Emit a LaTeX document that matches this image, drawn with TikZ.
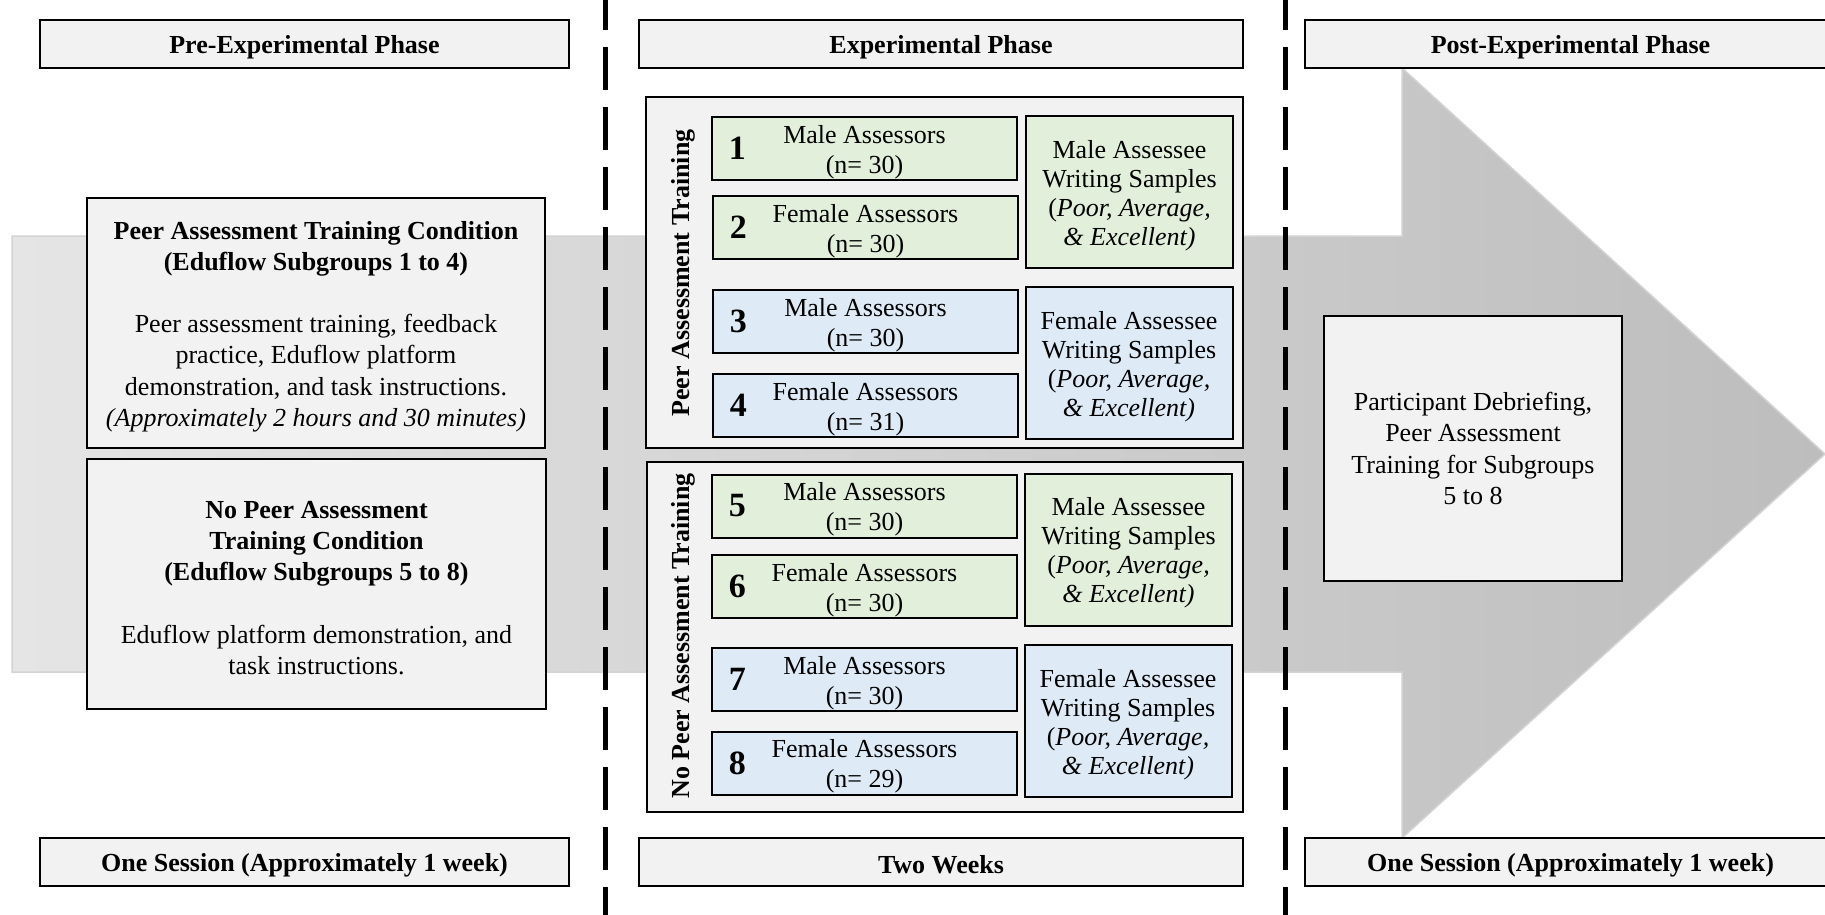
\documentclass[tikz,border=0pt]{standalone}
\usepackage{fontspec}
\setmainfont{Liberation Serif}
\usetikzlibrary{positioning}

\definecolor{boxgray}{HTML}{F2F2F2}
\definecolor{malegrn}{HTML}{E2EFDA}
\definecolor{femblue}{HTML}{DEEBF7}
\definecolor{bandleft}{HTML}{E5E5E5}
\definecolor{bandright}{HTML}{BDBDBD}
\definecolor{bandedge}{HTML}{D3D3D3}

% pushes a text block a little lower in its box
\newcommand{\toplift}{\rule{0pt}{12.5pt}}

\begin{document}
\begin{tikzpicture}[x=0.5pt, y=-0.5pt,
		execute at begin picture={\fontsize{13}{15.6}\selectfont},
		hdr/.style={draw=black, line width=1pt, fill=boxgray, minimum height=24pt, inner sep=0pt, font=\bfseries\toplift},
		panel/.style={draw=black, line width=1pt, fill=boxgray, align=center, inner sep=0pt},
		mgrp/.style={draw=black, line width=1pt, fill=malegrn, align=center, inner sep=0pt, minimum width=152.5pt, minimum height=31.5pt, font=\fontsize{13}{15}\selectfont},
		fgrp/.style={mgrp, fill=femblue},
		msmp/.style={draw=black, line width=1pt, fill=malegrn, align=center, inner sep=0pt, minimum width=103.5pt, minimum height=76pt, font=\fontsize{13}{14.5}\selectfont},
		fsmp/.style={msmp, fill=femblue},
		num/.style={inner sep=0pt, font=\fontsize{17}{20}\selectfont\bfseries},
		sidelbl/.style={rotate=90, inner sep=0pt, font=\bfseries\toplift},
		phaseline/.style={line width=2.5pt, dash pattern=on 21.5pt off 8.5pt, dash phase=6.5pt}]
			
			\useasboundingbox (0,0) rectangle (1825,915);
			
			% 1. THE BACKGROUND ARROW
			\shade[left color=bandleft, right color=bandright, draw=bandedge, line width=0.75pt] (12,236) -- (1402,236) -- (1402,68) -- (1825,454) -- (1402,838) -- (1402,672) -- (12,672) -- cycle;
			
			% 2. PHASE HEADERS
			\node[hdr, minimum width=264.5pt] (prehdr) at (304.5,44) {Pre-Experimental Phase};
			\node[hdr, minimum width=302pt] (exphdr) at (941,44) {Experimental Phase};
			\node[hdr, minimum width=265.5pt] (posthdr) at (1570.5,44) {Post-Experimental Phase};
			
			% Durations
			\node[hdr, minimum width=264.5pt] (predur) at (304.5,861.5) {One Session (Approximately 1 week)};
			\node[hdr, minimum width=302pt] (expdur) at (941,861.5) {Two Weeks};
			\node[hdr, minimum width=265.5pt] (postdur) at (1570.5,861.5) {One Session (Approximately 1 week)};
			
			% 3. PRE-EXPERIMENTAL CONDITIONS
			\node[panel, minimum width=229pt, minimum height=125pt] (patcond) at (316,323) {\toplift\textbf{Peer Assessment Training Condition}\\ \textbf{(Eduflow Subgroups 1 to 4)}\\[15.6pt] Peer assessment training, feedback\\ practice, Eduflow platform\\ demonstration, and task instructions.\\ \textit{(Approximately 2 hours and 30 minutes)}};
			\node[panel, minimum width=229.5pt, minimum height=125pt] (nopatcond) at (316.5,584) {\toplift\textbf{No Peer Assessment}\\ \textbf{Training Condition}\\ \textbf{(Eduflow Subgroups 5 to 8)}\\[15.6pt] Eduflow platform demonstration, and\\ task instructions.};
			
			% 4. EXPERIMENTAL SUBGROUPS
			% Training panel (subgroups 1-4)
			\node[panel, minimum width=298.5pt, minimum height=175.5pt] (patpanel) at (944.5,272.5) {};
			\node[sidelbl] (patlbl) at (680,273) {Peer Assessment Training};
			\node[mgrp] (g1) at (864.5,148.5) {\toplift Male Assessors\\ (n= 30)};
			\node[mgrp] (g2) at (865.5,227.5) {\toplift Female Assessors\\ (n= 30)};
			\node[fgrp] (g3) at (865.5,321.5) {\toplift Male Assessors\\ (n= 30)};
			\node[fgrp] (g4) at (865.5,405.5) {\toplift Female Assessors\\ (n= 31)};
			\node[num, right=8.75pt of g1.west] (n1) {1};
			\node[num, right=8.75pt of g2.west] (n2) {2};
			\node[num, right=8.75pt of g3.west] (n3) {3};
			\node[num, right=8.75pt of g4.west] (n4) {4};
			\node[msmp] (s1) at (1129.5,192) {\toplift Male Assessee\\ Writing Samples\\ (\textit{Poor, Average,}\\ \textit{\& Excellent)}};
			\node[fsmp] (s2) at (1129,363) {\toplift Female Assessee\\ Writing Samples\\ (\textit{Poor, Average,}\\ \textit{\& Excellent)}};
			
			% No training panel (subgroups 5-8)
			\node[panel, minimum width=298pt, minimum height=175pt] (nopatpanel) at (945,637) {};
			\node[sidelbl] (nopatlbl) at (680,636) {No Peer Assessment Training};
			\node[mgrp] (g5) at (864.5,506) {\toplift Male Assessors\\ (n= 30)};
			\node[mgrp] (g6) at (864.5,586.5) {\toplift Female Assessors\\ (n= 30)};
			\node[fgrp] (g7) at (864.5,679.5) {\toplift Male Assessors\\ (n= 30)};
			\node[fgrp] (g8) at (864.5,763) {\toplift Female Assessors\\ (n= 29)};
			\node[num, right=8.75pt of g5.west] (n5) {5};
			\node[num, right=8.75pt of g6.west] (n6) {6};
			\node[num, right=8.75pt of g7.west] (n7) {7};
			\node[num, right=8.75pt of g8.west] (n8) {8};
			\node[msmp] (s3) at (1128.5,549.5) {\toplift Male Assessee\\ Writing Samples\\ (\textit{Poor, Average,}\\ \textit{\& Excellent)}};
			\node[fsmp] (s4) at (1128,721) {\toplift Female Assessee\\ Writing Samples\\ (\textit{Poor, Average,}\\ \textit{\& Excellent)}};
			
			% 5. POST-EXPERIMENTAL
			\node[panel, minimum width=149pt, minimum height=132.5pt] (debrief) at (1473,448.5) {Participant Debriefing,\\ Peer Assessment\\ Training for Subgroups\\ 5 to 8};
			
			% Phase separators
			\draw[phaseline] (605,0) -- (605,915);
			\draw[phaseline] (1285,0) -- (1285,915);
			
		\end{tikzpicture}
\end{document}
